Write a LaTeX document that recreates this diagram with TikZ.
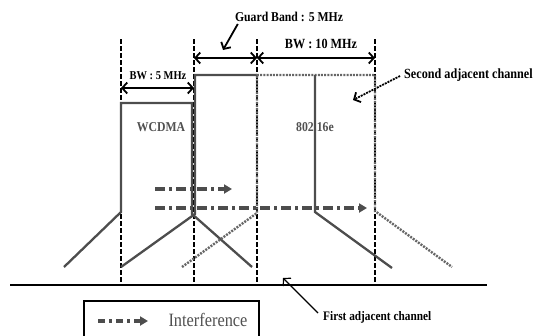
\documentclass[tikz,border=0pt]{standalone}
\usepackage{fontspec}
\setmainfont{Liberation Serif}
\newfontfamily\condfont[FakeStretch=0.87]{Liberation Serif}
\usepackage{tikz}
\usetikzlibrary{calc,arrows.meta}
\definecolor{sgray}{HTML}{4D4D4D}
\definecolor{lgray}{HTML}{666666}
\definecolor{tgray}{HTML}{505050}
\newcommand{\lblsize}[1]{\condfont\bfseries\fontsize{#1}{#1}\selectfont}

\begin{document}
\begin{tikzpicture}[x=1pt,y=-1pt,
  sig/.style={draw=sgray,line width=2.3pt},
  sigdot/.style={draw=lgray,line width=2.4pt,dash pattern=on 2pt off 1.2pt},
  grid/.style={line width=1.4pt,dash pattern=on 4.5pt off 2.5pt},
  bw/.style={line width=1.8pt,{Straight Barb[length=5pt,width=11pt]}-{Straight Barb[length=5pt,width=11pt]}},
  ptr/.style={line width=1.8pt,-{Straight Barb[length=5pt,width=11pt]}},
  intf/.style={draw=sgray,line width=3.2pt,dash pattern=on 10pt off 4pt on 3pt off 4pt,-{Triangle[length=8pt,width=9pt]}},
  lbl/.style={font=\lblsize{13.5},inner sep=0pt}]
\useasboundingbox (0,0) rectangle (540,335);
\clip (0,0) rectangle (540,335);
\draw[line width=1.2pt] (10,285) coordinate (axl) -- (487,285) coordinate (axr);
\foreach \n/\x in {a/121,b/194,c/257,d/375} {
  \coordinate (top-\n) at (\x,39); \coordinate (bot-\n) at (\x,285);
  \draw[grid] (top-\n) -- (bot-\n);
}
% channels
\node[lbl,text=tgray] (wcdma) at (161,127) {WCDMA};
\node[lbl,text=tgray] (wimax) at (315,127) {802.16e};
\draw[sig] (64,267) -- (121,212) -- (121,103) -- (192,103) -- (192,214) -- (252,267);
\draw[sig] (121,267) -- (195,214) -- (195,75) -- (257,75);
\draw[sigdot] (182,267) -- (257,213) -- (257,75) -- (375,75) -- (375,211) -- (452,267);
\draw[sig] (315,75) -- (315,212) -- (392,268);
% interference
\draw[intf] (155,189) -- (232,189);
\draw[intf] (155,208) -- (367,208);
% bandwidths
\draw[bw] (top-a |- 0,88) -- (top-b |- 0,88);
\draw[bw] (top-b |- 0,58) -- (top-c |- 0,58);
\draw[bw] (top-c |- 0,58) -- (top-d |- 0,58);
\node[lbl,font=\lblsize{12}] (bw5) at (158,76) {BW : 5 MHz};
\node[lbl,font=\lblsize{14}] (bw10) at (321,44) {BW : 10 MHz};
\node[lbl] (guard) at (289,17) {Guard Band : 5 MHz};
\coordinate (gtip) at (223,50);
\draw[ptr] ([xshift=3pt,yshift=-2pt]guard.south west) -- (gtip);
\node[lbl,font=\lblsize{14},anchor=west] (second) at (404,75) {Second adjacent channel};
\coordinate (stip) at (353,100);
\draw[ptr,dash pattern=on 2pt off 1pt] ([xshift=-4pt,yshift=-1pt]second.west) -- (stip);
\node[lbl,font=\lblsize{13},anchor=west] (first) at (323,317) {First adjacent channel};
\coordinate (ftip) at (283,278);
\draw[ptr,line width=1.2pt] ([xshift=-5pt,yshift=4pt]first.west) -- (ftip);
% legend
\draw[line width=1.3pt] (84,301) rectangle (259,345);
\draw[intf,dash pattern=on 7pt off 4pt on 3pt off 4pt] (98,321) coordinate (la) -- (148,321) coordinate (lb);
\node[text=tgray,font=\condfont\fontsize{18.8}{18.8}\selectfont,inner sep=0pt] (legtxt) at (208,320) {Interference};
\end{tikzpicture}
\end{document}
